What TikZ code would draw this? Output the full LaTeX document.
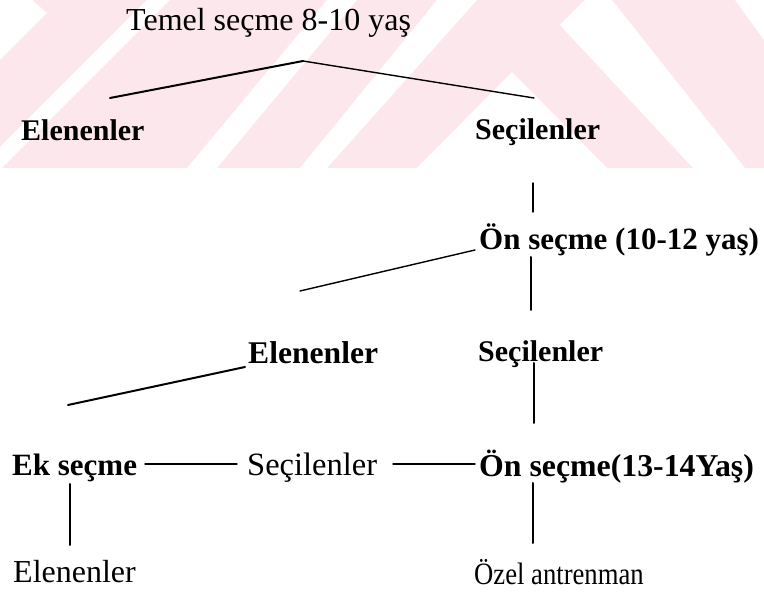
\documentclass[tikz,border=0pt]{standalone}
\usepackage{fontspec}
\setmainfont{Liberation Serif}
\definecolor{wm}{RGB}{252,232,236}
\tikzset{
  lbl/.style={anchor=base west, inner sep=0pt, text=black},
  reg/.style={font=\fontsize{#1}{#1}\selectfont},
  bld/.style={font=\fontsize{#1}{#1}\selectfont\bfseries},
  conn/.style={line width=2pt, black, line cap=round},
  thin conn/.style={line width=1.4pt, black, line cap=round},
}
\begin{document}
\begin{tikzpicture}[x=1pt,y=-1pt]
\useasboundingbox (0,0) rectangle (764,593);
\fill[white] (0,0) rectangle (764,593);
% watermark band
\fill[wm] (0,0) rectangle (764,168);
\fill[white] (0,0) -- (32,0) -- (47,13) -- (0,60) -- cycle;
\fill[white] (147,0) -- (170,0) -- (2,168) -- (0,168) -- (0,147) -- cycle;
\fill[white] (327,0) -- (357,0) -- (217,168) -- (187,168) -- cycle;
\fill[white] (437,0) -- (477,0) -- (327,168) -- (300,168) -- cycle;
\fill[white] (512,72) -- (607,168) -- (417,168) -- cycle;
\fill[white] (560,25) -- (585,0) -- (612,0) -- (745,168) -- (693,168) -- cycle;
\fill[white] (735,0) -- (764,0) -- (764,40) -- cycle;

% labels
\node[lbl, reg=32] (temel) at (126,31) {Temel seçme 8-10 yaş};
\node[lbl, bld=30] (el1) at (21,141) {Elenenler};
\node[lbl, bld=30] (se1) at (475,140) {Seçilenler};
\node[lbl, bld=31] (on1) at (479,250) {Ön seçme (10-12 yaş)};
\node[lbl, bld=31.6] (el2) at (248,364) {Elenenler};
\node[lbl, bld=30] (se2) at (478,362) {Seçilenler};
\node[lbl, bld=31] (ek) at (12,476) {Ek seçme};
\node[lbl, reg=32.5] (se3) at (247,476) {Seçilenler};
\node[lbl, bld=31.8] (on2) at (479,477) {Ön seçme(13-14Yaş)};
\node[lbl, reg=32] (el3) at (13,583) {Elenenler};
\node[lbl, reg=31] (ozel) at (474,585) {\scalebox{0.86}[1]{Özel antrenman}};

% connector end points
\coordinate (apex) at (303,61);
\coordinate (a1) at (110,98);
\coordinate (a2) at (534,98);
\coordinate (b1) at (533,183);
\coordinate (b2) at (533,212);
\coordinate (c1) at (300,291);
\coordinate (c2) at (475,250);
\coordinate (d1) at (531,257);
\coordinate (d2) at (531,310);
\coordinate (f1) at (68,405);
\coordinate (f2) at (245,367);
\coordinate (g1) at (534,363);
\coordinate (g2) at (534,423);
\coordinate (h1) at (145,464);
\coordinate (h2) at (237,464);
\coordinate (i1) at (393,464);
\coordinate (i2) at (475,464);
\coordinate (j1) at (533,483);
\coordinate (j2) at (533,543);
\coordinate (k1) at (70,484);
\coordinate (k2) at (70,545);

\draw[conn] (a1) -- (apex);
\draw[thin conn] (apex) -- (a2);
\draw[thin conn] (b1) -- (b2);
\draw[thin conn] (c1) -- (c2);
\draw[conn] (d1) -- (d2);
\draw[conn] (f1) -- (f2);
\draw[conn] (g1) -- (g2);
\draw[thin conn] (h1) -- (h2);
\draw[thin conn] (i1) -- (i2);
\draw[conn] (j1) -- (j2);
\draw[conn] (k1) -- (k2);
\end{tikzpicture}
\end{document}
